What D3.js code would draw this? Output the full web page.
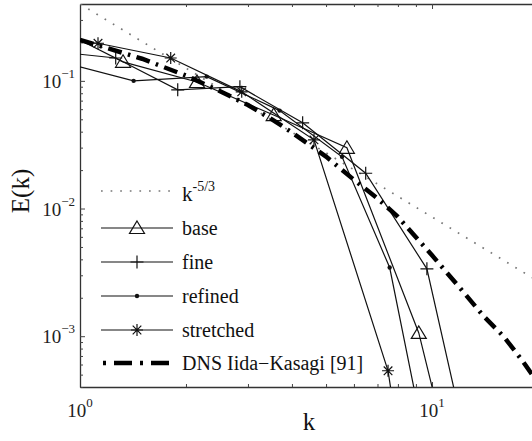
<!DOCTYPE html>
<html><head><meta charset="utf-8">
<script src="https://cdn.jsdelivr.net/npm/d3@7/dist/d3.min.js"></script>
<style>body{margin:0;background:#fff}svg{display:block}</style>
</head><body><svg id="c" width="532" height="441"></svg>
<script>
// ---- data ----
const kRef = [1, 20];
const eRef = [0.4, 0.0027];

const kBase = [0.82, 1.325, 2.15, 3.55, 5.73, 9.17, 14.7];
const eBase = [0.275, 0.141, 0.098, 0.054, 0.0299, 0.00106, 5.4e-6];

const kFine = [0.84, 1.263, 1.895, 2.846, 4.29, 6.48, 9.67, 14.5];
const eFine = [0.17, 0.151, 0.085, 0.090, 0.0469, 0.0189, 0.00337, 2.4e-5];

const kRefined = [0.88, 1.42, 2.29, 3.69, 5.55, 7.58, 10.6];
const eRefined = [0.141, 0.100, 0.108, 0.0585, 0.0254, 0.00345, 3.5e-5];

const kStretched = [0.70, 1.125, 1.81, 2.88, 4.62, 7.5, 12];
const eStretched = [0.22, 0.197, 0.151, 0.082, 0.0345, 5.36e-4, 1e-7];

const kDNS = [1, 1.2, 1.5, 2, 2.5, 3, 3.5, 4, 5, 6, 7, 8, 10, 12, 14, 16, 18, 20];
const eDNS = [0.209, 0.180, 0.149, 0.110, 0.083, 0.0646, 0.0502, 0.0394, 0.0255, 0.0168, 0.0120, 0.0086, 0.0043, 0.00239, 0.00144, 0.00099, 0.00065, 0.00043];

const xTicks = [1, 2, 3, 4, 5, 6, 7, 8, 9, 10, 20];
const yTicks = [4e-4, 5e-4, 6e-4, 7e-4, 8e-4, 9e-4, 1e-3, 2e-3, 3e-3, 4e-3, 5e-3, 6e-3, 7e-3, 8e-3, 9e-3,
                1e-2, 2e-2, 3e-2, 4e-2, 5e-2, 6e-2, 7e-2, 8e-2, 9e-2, 0.1, 0.2, 0.3, 0.4];
const xLabelTicks = [1, 10];
const xLabelExp = ["0", "1"];
const yLabelTicks = [0.1, 0.01, 0.001];
const yLabelExp = ["\u22121", "\u22122", "\u22123"];

const legendNames = ["base", "fine", "refined", "stretched", "DNS Iida\u2212Kasagi [91]"];

// ---- chart ----
const svg = d3.select("#c");
svg.append("rect").attr("width", 532).attr("height", 441).attr("fill", "#fff");
const L = 80, R = 538, T = 4, B = 387;
const x = d3.scaleLog().domain([1, 20]).range([L, R]);
const y = d3.scaleLog().domain([4e-4, 0.4]).range([B, T]);
const isMajor = v => Math.abs(Math.log10(v) - Math.round(Math.log10(v))) < 1e-9;
const serif = "'Liberation Serif','Times New Roman',serif";
const ink = "#111";

svg.append("clipPath").attr("id", "clip").append("rect")
  .attr("x", L).attr("y", T).attr("width", R - L).attr("height", B - T);

function styleAxis(g, attr, sign) {
  g.select(".domain").attr("stroke", "#333").attr("stroke-width", 1.3);
  g.selectAll(".tick line").attr("stroke", "#444").attr("stroke-width", 1)
    .attr(attr, d => sign * (isMajor(d) ? 5 : 3));
}
svg.append("g").attr("transform", `translate(0,${B})`)
  .call(d3.axisBottom(x).tickValues(xTicks).tickSizeInner(-3).tickSizeOuter(0).tickFormat(""))
  .call(g => styleAxis(g, "y2", -1));
svg.append("g").attr("transform", `translate(0,${T})`)
  .call(d3.axisTop(x).tickValues(xTicks).tickSizeInner(-3).tickSizeOuter(0).tickFormat(""))
  .call(g => styleAxis(g, "y2", 1));
svg.append("g").attr("transform", `translate(${L},0)`)
  .call(d3.axisLeft(y).tickValues(yTicks).tickSizeInner(-3).tickSizeOuter(0).tickFormat(""))
  .call(g => styleAxis(g, "x2", 1));
svg.append("g").attr("transform", `translate(${R},0)`)
  .call(d3.axisRight(y).tickValues(yTicks).tickSizeInner(-3).tickSizeOuter(0).tickFormat(""))
  .call(g => styleAxis(g, "x2", -1));

// tick labels
xLabelTicks.forEach((v, i) => {
  const t = svg.append("text").attr("x", x(v)).attr("y", 417).attr("text-anchor", "middle")
    .attr("font-family", serif).attr("font-size", 19).attr("fill", "#222");
  t.append("tspan").text("10");
  t.append("tspan").attr("dy", -10).attr("font-size", 13).text(xLabelExp[i]);
});
yLabelTicks.forEach((v, i) => {
  const t = svg.append("text").attr("x", 75).attr("y", y(v) + 7).attr("text-anchor", "end")
    .attr("font-family", serif).attr("font-size", 19).attr("fill", "#222");
  t.append("tspan").text("10");
  t.append("tspan").attr("dy", -10).attr("font-size", 13).text(yLabelExp[i]);
});

// axis titles
svg.append("text").attr("transform", "translate(29,191) rotate(-90)").attr("text-anchor", "middle")
  .attr("font-family", serif).attr("font-size", 25).attr("fill", "#111").text("E(k)");
svg.append("text").attr("x", 309).attr("y", 430).attr("text-anchor", "middle")
  .attr("font-family", serif).attr("font-size", 25).attr("fill", "#111").text("k");

// markers
const triPath = "M0,-7L7.5,5.5L-7.5,5.5Z";
const plusPath = "M-6.5,0H6.5M0,-6.5V6.5";
const starPath = "M-6,0H6M0,-6V6M-4.3,-4.3L4.3,4.3M-4.3,4.3L4.3,-4.3";
function drawMarker(g, kind, cx, cy) {
  if (kind === "dot") {
    g.append("circle").attr("cx", cx).attr("cy", cy).attr("r", 2.2).attr("fill", ink);
  } else {
    const p = kind === "tri" ? triPath : kind === "plus" ? plusPath : starPath;
    g.append("path").attr("d", p).attr("transform", `translate(${cx},${cy})`)
      .attr("fill", "none").attr("stroke", ink).attr("stroke-width", 1.2);
  }
}

const plot = svg.append("g").attr("clip-path", "url(#clip)");
const line = d3.line().x(d => x(d[0])).y(d => y(d[1]));
const zip = (a, b) => a.map((v, i) => [v, b[i]]);

// k^-5/3 reference
plot.append("path").datum(zip(kRef, eRef)).attr("d", line)
  .attr("fill", "none").attr("stroke", "#777").attr("stroke-width", 1.7)
  .attr("stroke-dasharray", "1.7,7.9");

const series = [
  [kBase, eBase, "tri"],
  [kFine, eFine, "plus"],
  [kRefined, eRefined, "dot"],
  [kStretched, eStretched, "star"]
];
series.forEach(([ks, es, m]) => {
  const pts = zip(ks, es);
  plot.append("path").datum(pts).attr("d", line)
    .attr("fill", "none").attr("stroke", ink).attr("stroke-width", 1.2);
  pts.forEach(p => drawMarker(plot, m, x(p[0]), y(p[1])));
});

// DNS
plot.append("path").datum(zip(kDNS, eDNS)).attr("d", line)
  .attr("fill", "none").attr("stroke", "#000").attr("stroke-width", 4.5)
  .attr("stroke-dasharray", "14,6.5,2.5,6.5");

// legend
const lg = svg.append("g");
const lx0 = 101, lx1 = 173, ltx = 182;
// k^-5/3 entry
lg.append("line").attr("x1", lx0).attr("x2", lx1).attr("y1", 191).attr("y2", 191)
  .attr("stroke", "#777").attr("stroke-width", 1.7).attr("stroke-dasharray", "1.7,7.9");
const kt = lg.append("text").attr("x", ltx).attr("y", 201).attr("font-family", serif)
  .attr("font-size", 21).attr("fill", "#111");
kt.append("tspan").text("k");
kt.append("tspan").attr("dy", -10).attr("font-size", 14).text("-5/3");

const legY = [228, 262, 296, 330, 363];
const legMark = ["tri", "plus", "dot", "star"];
legendNames.forEach((name, i) => {
  const yy = legY[i];
  if (i < 4) {
    lg.append("line").attr("x1", lx0).attr("x2", lx1).attr("y1", yy).attr("y2", yy)
      .attr("stroke", ink).attr("stroke-width", 1.2);
    drawMarker(lg, legMark[i], 137, yy);
  } else {
    lg.append("line").attr("x1", lx0 + 2).attr("x2", lx1).attr("y1", yy).attr("y2", yy)
      .attr("stroke", "#000").attr("stroke-width", 4.5).attr("stroke-dasharray", "3,8,18,8");
  }
  lg.append("text").attr("x", ltx).attr("y", yy + 7).attr("font-family", serif)
    .attr("font-size", 20).attr("fill", "#111").text(name);
});
</script></body></html>
